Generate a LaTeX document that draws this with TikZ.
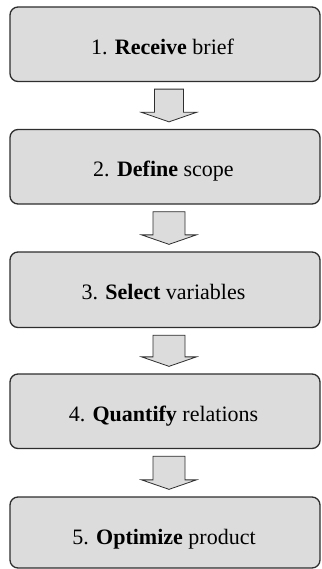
\documentclass[tikz,border=0pt]{standalone}
\usepackage{fontspec}
\setmainfont{Liberation Serif}
\usetikzlibrary{calc}

\definecolor{boxfill}{HTML}{DCDCDC}
\definecolor{boxline}{HTML}{2E2E2E}

\tikzset{
  stepbox/.style={
    draw=boxline, fill=boxfill, line width=1.3pt,
    rounded corners=8pt,
    minimum width=310pt, inner sep=0pt,
    text height=20pt, text depth=0pt,
    font=\fontsize{22}{25}\selectfont
  },
  flowarrow/.style={
    draw=boxline, fill=boxfill, line width=0.8pt, line join=miter
  }
}

% block arrow from the bottom of box #1 to the top of box #2, shaft half-width #3
\newcommand{\blockarrow}[3]{%
  \draw[flowarrow]
    let \p1 = ($(#1.south)+(4,7)$),
        \p2 = ($(#2.north)+(4,-7)$) in
    (\x1-#3,\y1) -- (\x1+#3,\y1) -- (\x1+#3,\y2+9.5pt)
    -- (\x1+27.5pt,\y2+9.5pt) -- (\x1,\y2) -- (\x1-27.5pt,\y2+9.5pt)
    -- (\x1-#3,\y2+9.5pt) -- cycle;
}

\begin{document}
\begin{tikzpicture}[x=1pt,y=-1pt]
  \useasboundingbox (0,0) rectangle (321,569);

  \node[stepbox, minimum height=74.5pt] (s1) at (165,44.25)
    {1. \textbf{Receive} brief\hspace*{5pt}};
  \node[stepbox, minimum height=74.5pt] (s2) at (165,166.75)
    {2. \textbf{Define} scope\hspace*{3pt}};
  \node[stepbox, minimum height=75.5pt] (s3) at (165,289.75)
    {3. \textbf{Select} variables\hspace*{3pt}};
  \node[stepbox, minimum height=74.5pt] (s4) at (165,411.25)
    {4. \textbf{Quantify} relations\hspace*{3pt}};
  \node[stepbox, minimum height=71pt, text height=23.5pt] (s5) at (165,532.5)
    {5. \textbf{Optimize} product\hspace*{2pt}};

  \blockarrow{s1}{s2}{14.5pt}
  \blockarrow{s2}{s3}{16pt}
  \blockarrow{s3}{s4}{16pt}
  \blockarrow{s4}{s5}{16pt}
\end{tikzpicture}
\end{document}
